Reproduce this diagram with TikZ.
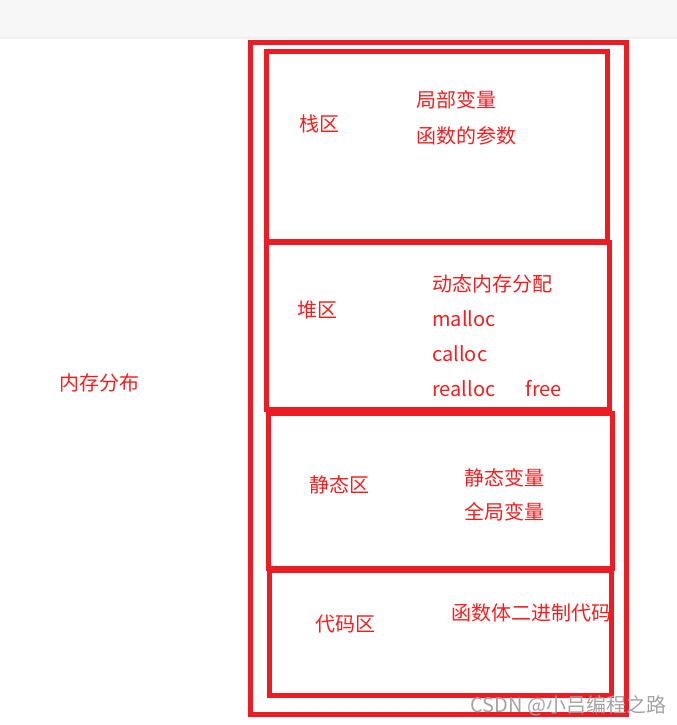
\documentclass[tikz,border=0pt]{standalone}
\usepackage{fontspec}
\setmainfont{Noto Sans CJK SC}
\definecolor{PaintRed}{HTML}{ED1C24}
\definecolor{LabelRed}{HTML}{F41E1E}
\definecolor{BarGray}{HTML}{F7F7F7}
\definecolor{BarLine}{HTML}{EEEEEE}
\definecolor{MarkGray}{HTML}{A3A3A3}

\begin{document}
\begin{tikzpicture}[x=0.75pt, y=-0.75pt, font=\fontsize{15pt}{18pt}\selectfont,
  zone/.style={draw=PaintRed, line width=3.75pt},
  txt/.style={anchor=base west, inner sep=0pt, text=LabelRed}]
  \useasboundingbox (0,0) rectangle (677,725);
  % page bar
  \fill[BarGray] (0,0) rectangle (677,37);
  \fill[BarLine] (0,37) rectangle (677,38.5);

  % memory blocks
  \draw[zone] (250.5,42) rectangle (626,714);
  \draw[zone] (266.5,51.5) rectangle (607.5,241);
  \draw[zone] (266.5,242) rectangle (609.2,409);
  \draw[zone] (268,413) rectangle (612.5,568);
  \draw[zone] (269,570) rectangle (611.5,695);

  \node[txt] (mem) at (59,390) {内存分布};

  \node[txt] (stack) at (299,131) {栈区};
  \node[txt] (local) at (416,107) {局部变量};
  \node[txt] (param) at (416,143.5) {函数的参数};

  \node[txt] (heap) at (297,317.5) {堆区};
  \node[txt] (dyn) at (432,291) {动态内存分配};
  \node[txt] (malloc) at (432,326.5) {malloc};
  \node[txt] (calloc) at (432,361) {calloc};
  \node[txt] (realloc) at (432,396) {realloc};
  \node[txt] (free) at (525.5,396) {free};

  \node[txt] (static) at (309,492.5) {静态区};
  \node[txt] (svar) at (464,485) {静态变量};
  \node[txt] (gvar) at (464,519) {全局变量};

  \node[txt] (code) at (315,631) {代码区};
  \node[txt] (body) at (451.5,620.5) {函数体二进制代码};

  \node[anchor=base west, inner sep=0pt, text=MarkGray] (mark) at (470,712.5) {CSDN @小吕编程之路};
\end{tikzpicture}
\end{document}
